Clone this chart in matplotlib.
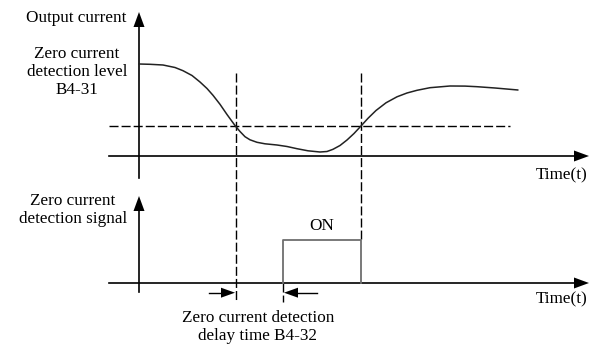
import matplotlib
matplotlib.use("Agg")
import matplotlib.pyplot as plt
from matplotlib.patches import Polygon

# ---- data (diagram units ~ pixel grid, y grows downward) ----
curve_t = [139, 150, 163, 175, 183, 192, 200, 207, 213, 220, 227, 235, 240, 245,
           250, 257, 265, 277, 287, 297, 308, 320, 327, 333, 340, 347, 354, 361,
           368, 376, 386, 397, 407, 417, 430, 450, 465, 477, 495, 518]
curve_i = [64, 64.3, 65, 67.5, 70.7, 75.5, 82, 88.5, 95.3, 104.3, 114.5, 125.5, 131.5, 136.7,
           139.8, 142.3, 143.8, 145, 146.5, 148.7, 150.8, 152, 151.5, 149.3, 145.5, 140, 133.5, 126,
           118.3, 110.5, 102.8, 96.8, 93, 90.3, 87.7, 86, 86.1, 86.7, 88, 90]
level_y = 125.5
axis1_y = 156
axis2_y = 283
yaxis_x = 139
t_detect = 236
t_on = 283
t_off = 361
pulse_top = 240
curve_end = 510

fig = plt.figure(figsize=(5.9, 3.45), dpi=100)
ax = fig.add_axes([0, 0, 1, 1])
ax.set_xlim(0, 590)
ax.set_ylim(345, 0)
ax.axis("off")

k = "black"
font = dict(family="Liberation Serif", fontsize=12.3, color="black")

def head(x, y, direction, L=15, W=5.5):
    if direction == "up":
        pts = [(x, y), (x - W, y + L), (x + W, y + L)]
    elif direction == "right":
        pts = [(x, y), (x - L, y - W), (x - L, y + W)]
    else:
        pts = [(x, y), (x + L, y - W), (x + L, y + W)]
    ax.add_patch(Polygon(pts, closed=True, color=k, lw=0))

# upper axes
ax.plot([yaxis_x, yaxis_x], [178, 20], color=k, lw=1.2)
head(yaxis_x, 12, "up")
ax.plot([109, 576], [axis1_y, axis1_y], color=k, lw=1.2)
head(589, axis1_y, "right")

# detection level dashed
ax.plot([109, curve_end], [level_y, level_y], color=k, lw=1.0, dashes=(6.5, 2.2))

# vertical dashed lines
ax.plot([t_detect, t_detect], [73, 302], color=k, lw=1.0, dashes=(6.5, 2.2))
ax.plot([t_off, t_off], [73, pulse_top], color=k, lw=1.0, dashes=(6.5, 2.2))
ax.plot([t_on, t_on], [axis2_y, 302], color=k, lw=1.0, dashes=(6.5, 2.2))

# output current curve
ax.plot(curve_t, curve_i, color="#222222", lw=1.1, solid_joinstyle="round",
        solid_capstyle="round")

# lower axes
ax.plot([yaxis_x, yaxis_x], [292, 205], color=k, lw=1.2)
head(yaxis_x, 196, "up")
ax.plot([109, 576], [axis2_y, axis2_y], color=k, lw=1.2)
head(589, axis2_y, "right")

# ON pulse
ax.plot([t_on, t_on, t_off, t_off], [axis2_y, pulse_top, pulse_top, axis2_y],
        color="#6e6e6e", lw=1.3)

# delay arrows
ay = 292.7
ax.plot([209, 225], [ay, ay], color=k, lw=1.0)
head(t_detect - 1, ay, "right", L=14, W=5)
ax.plot([294, 317], [ay, ay], color=k, lw=1.0)
head(t_on + 1, ay, "left", L=14, W=5)

# texts
ax.text(126, 18, "Output current", ha="right", va="center", **font)
ax.text(77, 72, "Zero current\ndetection level\nB4-31", ha="center", va="center",
        linespacing=1.2, **font)
ax.text(588, 175, "Time(t)", ha="right", va="center", **font)
ax.text(73, 210, "Zero current\ndetection signal", ha="center", va="center",
        linespacing=1.2, **font)
ax.text(322, 226, "ON", ha="center", va="center", **font)
ax.text(588, 299, "Time(t)", ha="right", va="center", **font)
ax.text(258, 327, "Zero current detection\ndelay time B4-32", ha="center", va="center",
        linespacing=1.2, **font)

fig.savefig("out.png", dpi=100)
